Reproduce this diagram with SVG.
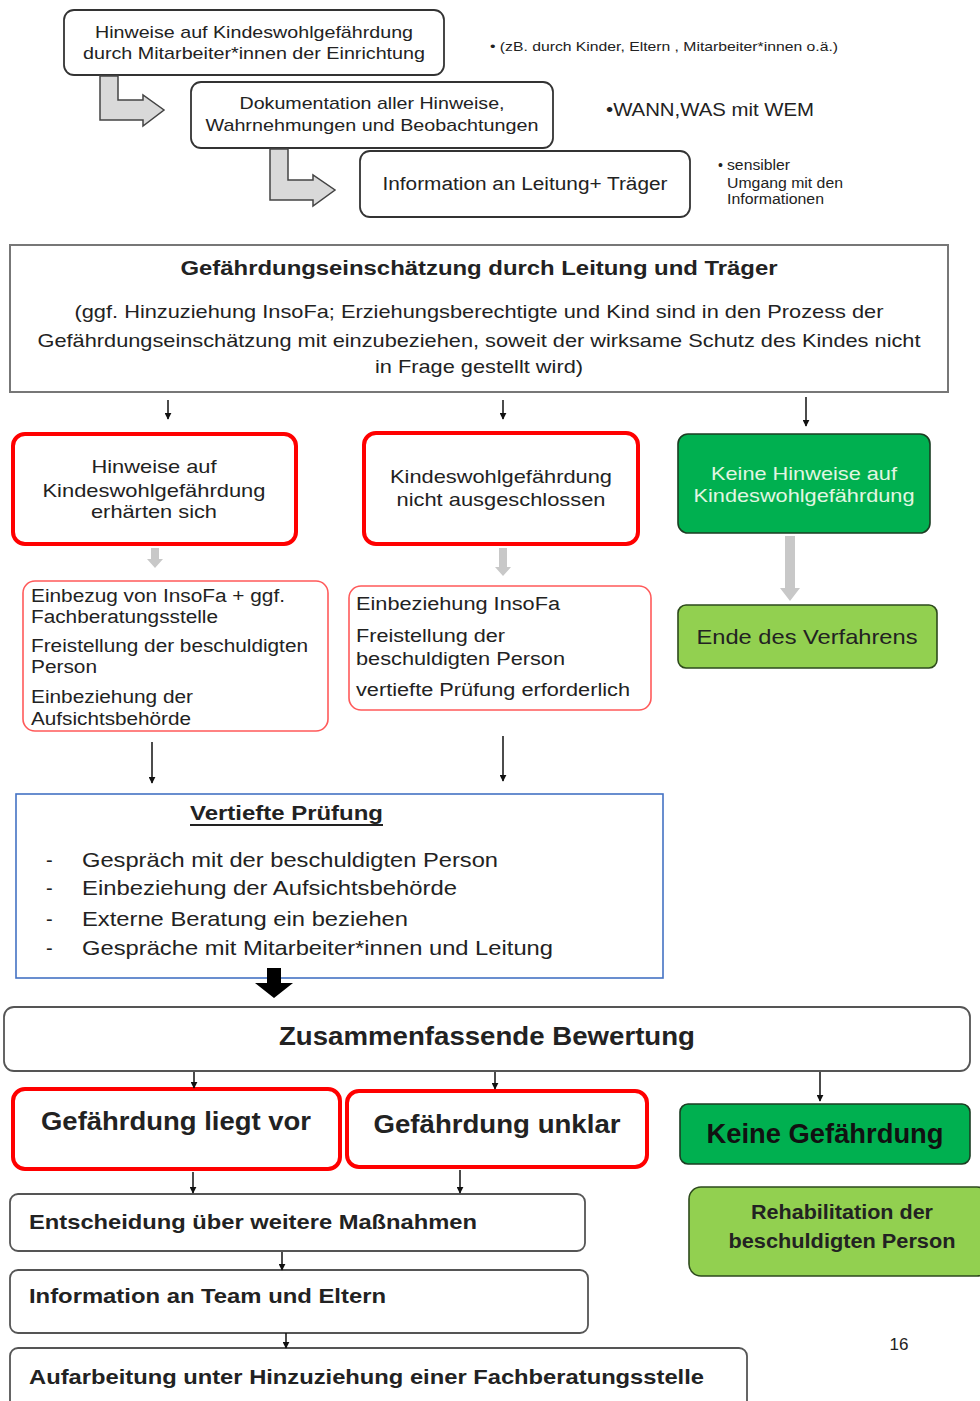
<svg xmlns="http://www.w3.org/2000/svg" width="980" height="1401" viewBox="0 0 980 1401">
<defs>
<style>
text{font-family:"Liberation Sans",Arial,sans-serif;fill:#222}
.c{text-anchor:middle}
.b{font-weight:bold}
.box{fill:#fff;stroke:#333;stroke-width:1.8}
.red{fill:#fff;stroke:#ff0000;stroke-width:4}
.lred{fill:#fff;stroke:#ff5a5a;stroke-width:1.6}
.green{fill:#00b050;stroke:#1b3d22;stroke-width:1.6}
.lgreen{fill:#92d050;stroke:#2d4a1c;stroke-width:1.6}
.bent{fill:#d9d9d9;stroke:#444;stroke-width:1.5}
.con{stroke:#111;stroke-width:1.5;fill:none}
.garr{fill:#c8c8c8;stroke:none}
</style>
<marker id="ah" viewBox="0 0 10 10" refX="9" refY="5" markerWidth="7" markerHeight="7" orient="auto" markerUnits="userSpaceOnUse">
<path d="M0,0 L10,5 L0,10 z" fill="#111"/>
</marker>
</defs>

<g id="n1">
<rect class="box" x="64" y="10" width="380" height="65" rx="10"/>
<text class="c" x="254" y="38" font-size="17" textLength="318" lengthAdjust="spacingAndGlyphs">Hinweise auf Kindeswohlgefährdung</text>
<text class="c" x="254" y="59" font-size="17" textLength="342" lengthAdjust="spacingAndGlyphs">durch Mitarbeiter*innen der Einrichtung</text>
</g>
<g id="n2">
<rect class="box" x="191" y="82" width="362" height="66" rx="10"/>
<text class="c" x="372" y="109" font-size="17" textLength="265" lengthAdjust="spacingAndGlyphs">Dokumentation aller Hinweise,</text>
<text class="c" x="372" y="131" font-size="17" textLength="333" lengthAdjust="spacingAndGlyphs">Wahrnehmungen und Beobachtungen</text>
</g>
<g id="n3">
<rect class="box" x="360" y="151" width="330" height="66" rx="10"/>
<text class="c" x="525" y="190" font-size="18" textLength="285" lengthAdjust="spacingAndGlyphs">Information an Leitung+ Träger</text>
</g>
<g id="notes">
<text x="490" y="51" font-size="13" textLength="348" lengthAdjust="spacingAndGlyphs">• (zB. durch Kinder, Eltern , Mitarbeiter*innen o.ä.)</text>
<text x="606" y="116" font-size="18" textLength="208" lengthAdjust="spacingAndGlyphs">•WANN,WAS mit WEM</text>
<text x="718" y="170" font-size="14">•</text>
<text x="727" y="170" font-size="14" textLength="63" lengthAdjust="spacingAndGlyphs">sensibler</text>
<text x="727" y="188" font-size="14" textLength="116" lengthAdjust="spacingAndGlyphs">Umgang mit den</text>
<text x="727" y="204" font-size="14" textLength="97" lengthAdjust="spacingAndGlyphs">Informationen</text>
</g>

<g id="n4">
<rect x="10" y="245" width="938" height="147" fill="#fff" stroke="#777" stroke-width="2"/>
<text class="c b" x="479" y="275" font-size="20" textLength="597" lengthAdjust="spacingAndGlyphs">Gefährdungseinschätzung durch Leitung und Träger</text>
<text class="c" x="479" y="318" font-size="19" textLength="809" lengthAdjust="spacingAndGlyphs">(ggf. Hinzuziehung InsoFa; Erziehungsberechtigte und Kind sind in den Prozess der</text>
<text class="c" x="479" y="347" font-size="19" textLength="883" lengthAdjust="spacingAndGlyphs">Gefährdungseinschätzung mit einzubeziehen, soweit der wirksame Schutz des Kindes nicht</text>
<text class="c" x="479" y="373" font-size="19" textLength="208" lengthAdjust="spacingAndGlyphs">in Frage gestellt wird)</text>
</g>

<g id="n5">
<rect class="red" x="13" y="434" width="283" height="110" rx="12"/>
<text class="c" x="154" y="473" font-size="19" textLength="125" lengthAdjust="spacingAndGlyphs">Hinweise auf</text>
<text class="c" x="154" y="497" font-size="19" textLength="223" lengthAdjust="spacingAndGlyphs">Kindeswohlgefährdung</text>
<text class="c" x="154" y="518" font-size="19" textLength="126" lengthAdjust="spacingAndGlyphs">erhärten sich</text>
</g>
<g id="n6">
<rect class="red" x="364" y="433" width="274" height="111" rx="12"/>
<text class="c" x="501" y="483" font-size="19" textLength="222" lengthAdjust="spacingAndGlyphs">Kindeswohlgefährdung</text>
<text class="c" x="501" y="506" font-size="19" textLength="209" lengthAdjust="spacingAndGlyphs">nicht ausgeschlossen</text>
</g>
<g id="n7">
<rect class="green" x="678" y="434" width="252" height="99" rx="10"/>
<text class="c" x="804" y="480" font-size="19" style="fill:#e2f6e2" textLength="186" lengthAdjust="spacingAndGlyphs">Keine Hinweise auf</text>
<text class="c" x="804" y="502" font-size="19" style="fill:#e2f6e2" textLength="221" lengthAdjust="spacingAndGlyphs">Kindeswohlgefährdung</text>
</g>
<g id="n8">
<rect class="lgreen" x="678" y="605" width="259" height="63" rx="8"/>
<text class="c" x="807" y="644" font-size="21" textLength="221" lengthAdjust="spacingAndGlyphs">Ende des Verfahrens</text>
</g>

<g id="n9">
<rect class="lred" x="23" y="581" width="305" height="150" rx="12"/>
<text x="31" y="602" font-size="18" textLength="254" lengthAdjust="spacingAndGlyphs">Einbezug von InsoFa + ggf.</text>
<text x="31" y="623" font-size="18" textLength="187" lengthAdjust="spacingAndGlyphs">Fachberatungsstelle</text>
<text x="31" y="652" font-size="18" textLength="277" lengthAdjust="spacingAndGlyphs">Freistellung der beschuldigten</text>
<text x="31" y="673" font-size="18" textLength="66" lengthAdjust="spacingAndGlyphs">Person</text>
<text x="31" y="703" font-size="18" textLength="162" lengthAdjust="spacingAndGlyphs">Einbeziehung der</text>
<text x="31" y="725" font-size="18" textLength="160" lengthAdjust="spacingAndGlyphs">Aufsichtsbehörde</text>
</g>
<g id="n10">
<rect class="lred" x="349" y="586" width="302" height="124" rx="12"/>
<text x="356" y="610" font-size="18" textLength="204" lengthAdjust="spacingAndGlyphs">Einbeziehung InsoFa</text>
<text x="356" y="642" font-size="18" textLength="149" lengthAdjust="spacingAndGlyphs">Freistellung der</text>
<text x="356" y="665" font-size="18" textLength="209" lengthAdjust="spacingAndGlyphs">beschuldigten Person</text>
<text x="356" y="696" font-size="18" textLength="274" lengthAdjust="spacingAndGlyphs">vertiefte Prüfung erforderlich</text>
</g>

<g id="n11">
<rect x="16" y="794" width="647" height="184" fill="#fff" stroke="#4472c4" stroke-width="1.6"/>
<text class="b" x="190" y="820" font-size="21" textLength="193" lengthAdjust="spacingAndGlyphs">Vertiefte Prüfung</text>
<line x1="190" y1="825" x2="383" y2="825" stroke="#222" stroke-width="2"/>
<text x="46" y="867" font-size="20">-</text>
<text x="82" y="867" font-size="21" textLength="416" lengthAdjust="spacingAndGlyphs">Gespräch mit der beschuldigten Person</text>
<text x="46" y="895" font-size="20">-</text>
<text x="82" y="895" font-size="21" textLength="375" lengthAdjust="spacingAndGlyphs">Einbeziehung der Aufsichtsbehörde</text>
<text x="46" y="926" font-size="20">-</text>
<text x="82" y="926" font-size="21" textLength="326" lengthAdjust="spacingAndGlyphs">Externe Beratung ein beziehen</text>
<text x="46" y="955" font-size="20">-</text>
<text x="82" y="955" font-size="21" textLength="471" lengthAdjust="spacingAndGlyphs">Gespräche mit Mitarbeiter*innen und Leitung</text>
</g>

<g id="n12">
<rect class="box" x="4" y="1007" width="966" height="64" rx="10" style="stroke:#555"/>
<text class="c b" x="487" y="1045" font-size="25" textLength="416" lengthAdjust="spacingAndGlyphs">Zusammenfassende Bewertung</text>
</g>
<g id="n13">
<rect class="red" x="13" y="1089" width="327" height="80" rx="12"/>
<text class="c b" x="176" y="1130" font-size="26" textLength="270" lengthAdjust="spacingAndGlyphs">Gefährdung liegt vor</text>
</g>
<g id="n14">
<rect class="red" x="347" y="1091" width="300" height="76" rx="12"/>
<text class="c b" x="497" y="1133" font-size="26" textLength="247" lengthAdjust="spacingAndGlyphs">Gefährdung unklar</text>
</g>
<g id="n15">
<rect class="green" x="680" y="1104" width="290" height="60" rx="8"/>
<text class="c b" x="825" y="1143" font-size="27" style="fill:#111" textLength="237" lengthAdjust="spacingAndGlyphs">Keine Gefährdung</text>
</g>
<g id="n16">
<rect class="lgreen" x="689" y="1187" width="300" height="89" rx="12"/>
<text class="c b" x="842" y="1219" font-size="20" textLength="182" lengthAdjust="spacingAndGlyphs">Rehabilitation der</text>
<text class="c b" x="842" y="1248" font-size="20" textLength="227" lengthAdjust="spacingAndGlyphs">beschuldigten Person</text>
</g>
<g id="n17">
<rect class="box" x="10" y="1194" width="575" height="57" rx="8" style="stroke:#555"/>
<text class="b" x="29" y="1229" font-size="21" textLength="448" lengthAdjust="spacingAndGlyphs">Entscheidung über weitere Maßnahmen</text>
</g>
<g id="n18">
<rect class="box" x="10" y="1270" width="578" height="63" rx="8" style="stroke:#555"/>
<text class="b" x="29" y="1303" font-size="21" textLength="357" lengthAdjust="spacingAndGlyphs">Information an Team und Eltern</text>
</g>
<g id="n19">
<rect class="box" x="10" y="1348" width="737" height="70" rx="8" style="stroke:#555"/>
<text class="b" x="29" y="1384" font-size="21" textLength="675" lengthAdjust="spacingAndGlyphs">Aufarbeitung unter Hinzuziehung einer Fachberatungsstelle</text>
</g>
<text x="899" y="1350" font-size="17" class="c">16</text>

<g id="connectors">
<path class="bent" d="M100,76 L118,76 L118,100 L143,100 L143,95 L164,110 L143,126 L143,120 L100,120 z"/>
<path class="bent" d="M270,149 L288,149 L288,180 L313,180 L313,175 L335,190 L313,206 L313,200 L270,200 z"/>
<line class="con" x1="168" y1="400" x2="168" y2="419" marker-end="url(#ah)"/>
<line class="con" x1="503" y1="400" x2="503" y2="419" marker-end="url(#ah)"/>
<line class="con" x1="806" y1="397" x2="806" y2="426" marker-end="url(#ah)"/>
<path class="garr" d="M151,548 L159,548 L159,559 L163,559 L155,568 L147,559 L151,559 z"/>
<path class="garr" d="M499,548 L507,548 L507,567 L511,567 L503,576 L495,567 L499,567 z"/>
<path class="garr" d="M785,536 L795,536 L795,588 L800,588 L790,601 L780,588 L785,588 z"/>
<line class="con" x1="152" y1="742" x2="152" y2="783" marker-end="url(#ah)"/>
<line class="con" x1="503" y1="736" x2="503" y2="781" marker-end="url(#ah)"/>
<path d="M267,968 L281,968 L281,983 L293,983 L274,998 L255,983 L267,983 z" fill="#000"/>
<line class="con" x1="194" y1="1072" x2="194" y2="1088" marker-end="url(#ah)"/>
<line class="con" x1="495" y1="1072" x2="495" y2="1089" marker-end="url(#ah)"/>
<line class="con" x1="820" y1="1072" x2="820" y2="1101" marker-end="url(#ah)"/>
<line class="con" x1="193" y1="1172" x2="193" y2="1193" marker-end="url(#ah)"/>
<line class="con" x1="460" y1="1170" x2="460" y2="1193" marker-end="url(#ah)"/>
<line class="con" x1="282" y1="1252" x2="282" y2="1270" marker-end="url(#ah)"/>
<line class="con" x1="286" y1="1333" x2="286" y2="1348" marker-end="url(#ah)"/>
</g>
</svg>
